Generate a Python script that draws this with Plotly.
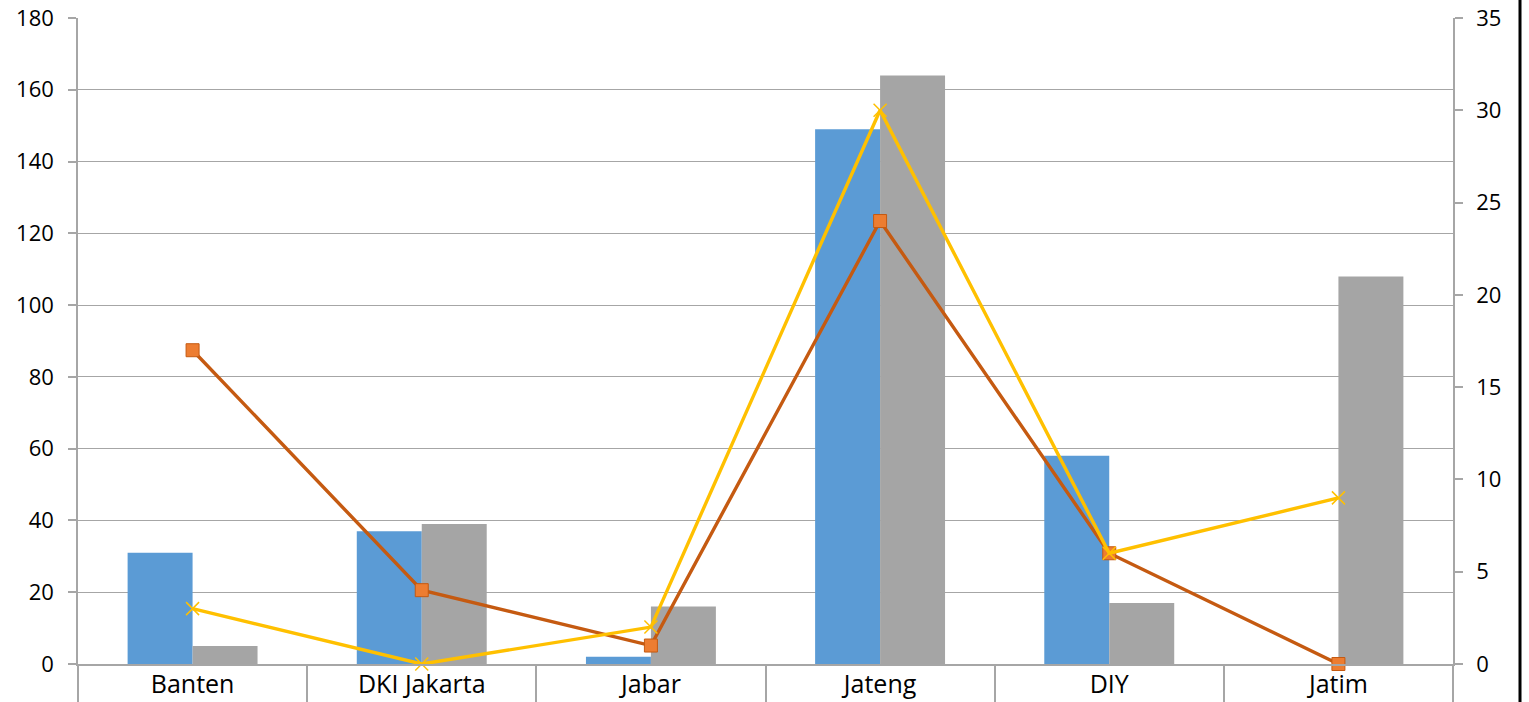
import plotly.graph_objects as go

categories = ["Banten", "DKI Jakarta", "Jabar", "Jateng", "DIY", "Jatim"]
bar_blue = [31, 37, 2, 149, 58, 0]
bar_gray = [5, 39, 16, 164, 17, 108]
line_orange = [17, 4, 1, 24, 6, 0]
line_yellow = [3, 0, 2, 30, 6, 9]

left_ticks = list(range(0, 181, 20))
right_ticks = list(range(0, 36, 5))

FONT = "Open Sans"
W, H = 1529, 702
ML, MR, MT, MB = 78, 76, 18, 38

fig = go.Figure()
fig.add_trace(go.Bar(x=categories, y=bar_blue, marker=dict(color="#5B9BD5", line=dict(width=0)),
                     name="s1", yaxis="y"))
fig.add_trace(go.Bar(x=categories, y=bar_gray, marker=dict(color="#A5A5A5", line=dict(width=0)),
                     name="s2", yaxis="y"))
fig.add_trace(go.Scatter(x=categories, y=line_orange, yaxis="y2", mode="lines+markers",
                         line=dict(color="#C55A11", width=3.4),
                         marker=dict(symbol="square", size=13, color="#ED7D31",
                                     line=dict(color="#C55A11", width=1)),
                         name="s3", cliponaxis=False))
fig.add_trace(go.Scatter(x=categories, y=line_yellow, yaxis="y2", mode="lines+markers",
                         line=dict(color="#FFC000", width=3.4),
                         marker=dict(symbol="x-thin", size=13, color="#FFC000",
                                     line=dict(color="#FFC000", width=1.5)),
                         name="s4", cliponaxis=False))

axis_gray = "#A6A6A6"
fig.update_layout(
    width=W, height=H,
    margin=dict(l=ML, r=MR, t=MT, b=MB, pad=0, autoexpand=False),
    paper_bgcolor="white", plot_bgcolor="white",
    showlegend=False,
    barmode="group", bargap=0.433, bargroupgap=0,
    font=dict(family=FONT, color="#000000"),
    xaxis=dict(
        type="category", showgrid=False, showline=True, linecolor=axis_gray, linewidth=1.5,
        ticks="outside", tickson="boundaries", ticklen=45, tickcolor=axis_gray, tickwidth=1.5,
        ticklabelstandoff=-3, automargin=False,
        tickfont=dict(size=25, family=FONT, color="#000000"),
        zeroline=False,
    ),
    yaxis=dict(
        range=[0, 180], tickvals=left_ticks, showgrid=True, gridcolor=axis_gray, gridwidth=1.2,
        showline=True, linecolor=axis_gray, linewidth=1.5, ticks="outside", ticklen=8,
        tickcolor=axis_gray, tickwidth=1.5, zeroline=False, automargin=False,
        tickfont=dict(size=22, family=FONT, color="#000000"), ticklabelstandoff=10,
    ),
    yaxis2=dict(
        range=[0, 35], tickvals=right_ticks, overlaying="y", side="right", showgrid=False,
        showline=True, linecolor=axis_gray, linewidth=1.5, ticks="outside", ticklen=8,
        tickcolor=axis_gray, tickwidth=1.5, zeroline=False, automargin=False,
        tickfont=dict(size=22, family=FONT, color="#000000"), ticklabelstandoff=9,
    ),
    shapes=[dict(type="line", xref="paper", yref="paper",
                 x0=(1520 - ML) / (W - ML - MR), x1=(1520 - ML) / (W - ML - MR),
                 y0=-MB / (H - MT - MB), y1=1 + MT / (H - MT - MB),
                 line=dict(color="black", width=3))],
)

fig.write_html("out.html")
